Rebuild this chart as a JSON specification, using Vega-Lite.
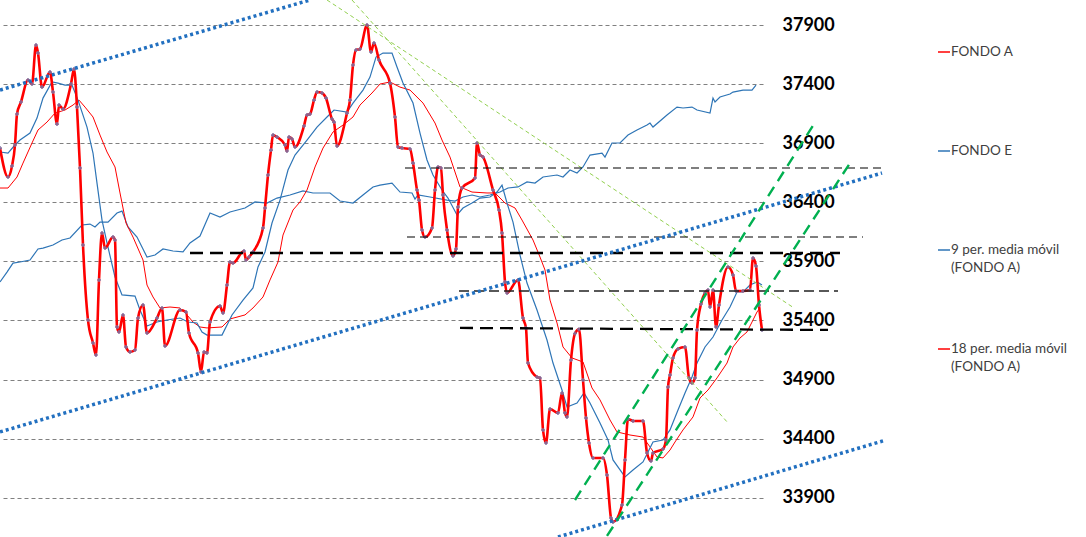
{
  "$schema": "https://vega.github.io/schema/vega-lite/v6.json",
  "width": 763,
  "height": 537,
  "autosize": {"type": "none"},
  "padding": {"left": 0, "top": 0, "right": 323, "bottom": 0},
  "background": "white",
  "config": {"view": {"stroke": null}},
  "datasets": {
    "fa": [
      {"s":"FONDO A","t":0,"v":36859},{"s":"FONDO A","t":8,"v":36614},{"s":"FONDO A","t":12,"v":36707},{"s":"FONDO A","t":15,"v":36885},{"s":"FONDO A","t":17,"v":37147},{"s":"FONDO A","t":21,"v":37249},{"s":"FONDO A","t":28,"v":37435},{"s":"FONDO A","t":32,"v":37401},{"s":"FONDO A","t":36,"v":37731},{"s":"FONDO A","t":38,"v":37663},{"s":"FONDO A","t":42,"v":37375},{"s":"FONDO A","t":50,"v":37502},{"s":"FONDO A","t":53,"v":37333},{"s":"FONDO A","t":57,"v":37062},{"s":"FONDO A","t":59,"v":37223},{"s":"FONDO A","t":63,"v":37189},{"s":"FONDO A","t":71,"v":37401},{"s":"FONDO A","t":74,"v":37528},{"s":"FONDO A","t":77,"v":37206},{"s":"FONDO A","t":80,"v":36690},{"s":"FONDO A","t":83,"v":36039},{"s":"FONDO A","t":88,"v":35404},{"s":"FONDO A","t":93,"v":35210},{"s":"FONDO A","t":96,"v":35108},{"s":"FONDO A","t":99,"v":35743},{"s":"FONDO A","t":102,"v":36140},{"s":"FONDO A","t":105,"v":36013},{"s":"FONDO A","t":113,"v":36106},{"s":"FONDO A","t":115,"v":36081},{"s":"FONDO A","t":117,"v":35345},{"s":"FONDO A","t":119,"v":35303},{"s":"FONDO A","t":123,"v":35447},{"s":"FONDO A","t":126,"v":35176},{"s":"FONDO A","t":130,"v":35134},{"s":"FONDO A","t":135,"v":35150},{"s":"FONDO A","t":138,"v":35421},{"s":"FONDO A","t":143,"v":35531},{"s":"FONDO A","t":147,"v":35294},{"s":"FONDO A","t":157,"v":35421},{"s":"FONDO A","t":162,"v":35506},{"s":"FONDO A","t":165,"v":35184},{"s":"FONDO A","t":180,"v":35489},{"s":"FONDO A","t":186,"v":35472},{"s":"FONDO A","t":189,"v":35294},{"s":"FONDO A","t":198,"v":35125},{"s":"FONDO A","t":201,"v":34964},{"s":"FONDO A","t":204,"v":35134},{"s":"FONDO A","t":207,"v":35125},{"s":"FONDO A","t":210,"v":35387},{"s":"FONDO A","t":220,"v":35523},{"s":"FONDO A","t":223,"v":35463},{"s":"FONDO A","t":227,"v":35700},{"s":"FONDO A","t":230,"v":35895},{"s":"FONDO A","t":233,"v":35886},{"s":"FONDO A","t":244,"v":35988},{"s":"FONDO A","t":246,"v":35912},{"s":"FONDO A","t":249,"v":35937},{"s":"FONDO A","t":253,"v":35980},{"s":"FONDO A","t":263,"v":36183},{"s":"FONDO A","t":265,"v":36352},{"s":"FONDO A","t":268,"v":36631},{"s":"FONDO A","t":271,"v":36842},{"s":"FONDO A","t":273,"v":36969},{"s":"FONDO A","t":277,"v":36952},{"s":"FONDO A","t":285,"v":36885},{"s":"FONDO A","t":287,"v":36834},{"s":"FONDO A","t":289,"v":36952},{"s":"FONDO A","t":292,"v":36936},{"s":"FONDO A","t":295,"v":36868},{"s":"FONDO A","t":304,"v":37046},{"s":"FONDO A","t":307,"v":37139},{"s":"FONDO A","t":310,"v":37147},{"s":"FONDO A","t":314,"v":37265},{"s":"FONDO A","t":317,"v":37333},{"s":"FONDO A","t":322,"v":37325},{"s":"FONDO A","t":326,"v":37282},{"s":"FONDO A","t":332,"v":37105},{"s":"FONDO A","t":334,"v":37079},{"s":"FONDO A","t":337,"v":36876},{"s":"FONDO A","t":347,"v":37155},{"s":"FONDO A","t":350,"v":37265},{"s":"FONDO A","t":353,"v":37562},{"s":"FONDO A","t":356,"v":37688},{"s":"FONDO A","t":360,"v":37697},{"s":"FONDO A","t":367,"v":37900},{"s":"FONDO A","t":371,"v":37672},{"s":"FONDO A","t":374,"v":37748},{"s":"FONDO A","t":379,"v":37604},{"s":"FONDO A","t":390,"v":37409},{"s":"FONDO A","t":395,"v":37122},{"s":"FONDO A","t":398,"v":36868},{"s":"FONDO A","t":402,"v":36859},{"s":"FONDO A","t":410,"v":36851},{"s":"FONDO A","t":413,"v":36732},{"s":"FONDO A","t":417,"v":36504},{"s":"FONDO A","t":419,"v":36419},{"s":"FONDO A","t":422,"v":36166},{"s":"FONDO A","t":425,"v":36106},{"s":"FONDO A","t":432,"v":36183},{"s":"FONDO A","t":435,"v":36504},{"s":"FONDO A","t":438,"v":36699},{"s":"FONDO A","t":441,"v":36690},{"s":"FONDO A","t":443,"v":36462},{"s":"FONDO A","t":447,"v":36166},{"s":"FONDO A","t":453,"v":35946},{"s":"FONDO A","t":456,"v":36005},{"s":"FONDO A","t":458,"v":36360},{"s":"FONDO A","t":462,"v":36521},{"s":"FONDO A","t":475,"v":36606},{"s":"FONDO A","t":477,"v":36902},{"s":"FONDO A","t":480,"v":36800},{"s":"FONDO A","t":483,"v":36783},{"s":"FONDO A","t":493,"v":36504},{"s":"FONDO A","t":499,"v":36335},{"s":"FONDO A","t":502,"v":36140},{"s":"FONDO A","t":505,"v":35726},{"s":"FONDO A","t":507,"v":35633},{"s":"FONDO A","t":518,"v":35743},{"s":"FONDO A","t":523,"v":35421},{"s":"FONDO A","t":526,"v":35337},{"s":"FONDO A","t":528,"v":35040},{"s":"FONDO A","t":537,"v":34922},{"s":"FONDO A","t":540,"v":34914},{"s":"FONDO A","t":543,"v":34474},{"s":"FONDO A","t":546,"v":34364},{"s":"FONDO A","t":550,"v":34651},{"s":"FONDO A","t":558,"v":34618},{"s":"FONDO A","t":562,"v":34787},{"s":"FONDO A","t":565,"v":34618},{"s":"FONDO A","t":567,"v":34584},{"s":"FONDO A","t":571,"v":35066},{"s":"FONDO A","t":575,"v":35290},{"s":"FONDO A","t":579,"v":35325},{"s":"FONDO A","t":583,"v":34897},{"s":"FONDO A","t":586,"v":34575},{"s":"FONDO A","t":589,"v":34364},{"s":"FONDO A","t":593,"v":34237},{"s":"FONDO A","t":603,"v":34237},{"s":"FONDO A","t":607,"v":34093},{"s":"FONDO A","t":611,"v":33729},{"s":"FONDO A","t":613,"v":33695},{"s":"FONDO A","t":622,"v":33839},{"s":"FONDO A","t":625,"v":34220},{"s":"FONDO A","t":628,"v":34567},{"s":"FONDO A","t":633,"v":34550},{"s":"FONDO A","t":643,"v":34550},{"s":"FONDO A","t":647,"v":34279},{"s":"FONDO A","t":651,"v":34211},{"s":"FONDO A","t":653,"v":34279},{"s":"FONDO A","t":663,"v":34313},{"s":"FONDO A","t":666,"v":34389},{"s":"FONDO A","t":668,"v":34837},{"s":"FONDO A","t":670,"v":34939},{"s":"FONDO A","t":673,"v":35083},{"s":"FONDO A","t":678,"v":35159},{"s":"FONDO A","t":685,"v":35176},{"s":"FONDO A","t":689,"v":34914},{"s":"FONDO A","t":692,"v":34871},{"s":"FONDO A","t":695,"v":34914},{"s":"FONDO A","t":697,"v":35320},{"s":"FONDO A","t":701,"v":35540},{"s":"FONDO A","t":705,"v":35633},{"s":"FONDO A","t":708,"v":35658},{"s":"FONDO A","t":710,"v":35514},{"s":"FONDO A","t":713,"v":35658},{"s":"FONDO A","t":716,"v":35345},{"s":"FONDO A","t":719,"v":35531},{"s":"FONDO A","t":728,"v":35853},{"s":"FONDO A","t":733,"v":35785},{"s":"FONDO A","t":736,"v":35650},{"s":"FONDO A","t":743,"v":35650},{"s":"FONDO A","t":750,"v":35658},{"s":"FONDO A","t":753,"v":35929},{"s":"FONDO A","t":756,"v":35861},{"s":"FONDO A","t":759,"v":35531},{"s":"FONDO A","t":762,"v":35320}
    ],
    "fe": [
      {"s":"FONDO E","t":0,"v":35726},{"s":"FONDO E","t":7,"v":35810},{"s":"FONDO E","t":13,"v":35886},{"s":"FONDO E","t":20,"v":35895},{"s":"FONDO E","t":30,"v":35912},{"s":"FONDO E","t":38,"v":36005},{"s":"FONDO E","t":43,"v":36013},{"s":"FONDO E","t":53,"v":36039},{"s":"FONDO E","t":62,"v":36081},{"s":"FONDO E","t":70,"v":36098},{"s":"FONDO E","t":82,"v":36208},{"s":"FONDO E","t":90,"v":36216},{"s":"FONDO E","t":95,"v":36191},{"s":"FONDO E","t":100,"v":36233},{"s":"FONDO E","t":108,"v":36233},{"s":"FONDO E","t":117,"v":36310},{"s":"FONDO E","t":122,"v":36326},{"s":"FONDO E","t":128,"v":36191},{"s":"FONDO E","t":137,"v":36106},{"s":"FONDO E","t":147,"v":35937},{"s":"FONDO E","t":155,"v":35954},{"s":"FONDO E","t":163,"v":36005},{"s":"FONDO E","t":173,"v":35988},{"s":"FONDO E","t":183,"v":35980},{"s":"FONDO E","t":190,"v":36056},{"s":"FONDO E","t":200,"v":36115},{"s":"FONDO E","t":210,"v":36310},{"s":"FONDO E","t":220,"v":36276},{"s":"FONDO E","t":230,"v":36318},{"s":"FONDO E","t":245,"v":36352},{"s":"FONDO E","t":255,"v":36403},{"s":"FONDO E","t":267,"v":36394},{"s":"FONDO E","t":277,"v":36436},{"s":"FONDO E","t":290,"v":36462},{"s":"FONDO E","t":303,"v":36496},{"s":"FONDO E","t":313,"v":36479},{"s":"FONDO E","t":330,"v":36479},{"s":"FONDO E","t":340,"v":36411},{"s":"FONDO E","t":353,"v":36394},{"s":"FONDO E","t":363,"v":36462},{"s":"FONDO E","t":373,"v":36530},{"s":"FONDO E","t":380,"v":36546},{"s":"FONDO E","t":392,"v":36563},{"s":"FONDO E","t":400,"v":36487},{"s":"FONDO E","t":412,"v":36479},{"s":"FONDO E","t":415,"v":36428},{"s":"FONDO E","t":418,"v":36462},{"s":"FONDO E","t":430,"v":36445},{"s":"FONDO E","t":447,"v":36419},{"s":"FONDO E","t":455,"v":36411},{"s":"FONDO E","t":463,"v":36445},{"s":"FONDO E","t":472,"v":36462},{"s":"FONDO E","t":480,"v":36445},{"s":"FONDO E","t":490,"v":36462},{"s":"FONDO E","t":500,"v":36487},{"s":"FONDO E","t":508,"v":36521},{"s":"FONDO E","t":518,"v":36530},{"s":"FONDO E","t":527,"v":36572},{"s":"FONDO E","t":535,"v":36563},{"s":"FONDO E","t":543,"v":36614},{"s":"FONDO E","t":557,"v":36631},{"s":"FONDO E","t":563,"v":36614},{"s":"FONDO E","t":570,"v":36673},{"s":"FONDO E","t":577,"v":36648},{"s":"FONDO E","t":583,"v":36699},{"s":"FONDO E","t":590,"v":36800},{"s":"FONDO E","t":602,"v":36817},{"s":"FONDO E","t":605,"v":36783},{"s":"FONDO E","t":612,"v":36902},{"s":"FONDO E","t":620,"v":36902},{"s":"FONDO E","t":628,"v":36969},{"s":"FONDO E","t":637,"v":37012},{"s":"FONDO E","t":647,"v":37054},{"s":"FONDO E","t":650,"v":37071},{"s":"FONDO E","t":653,"v":37037},{"s":"FONDO E","t":667,"v":37139},{"s":"FONDO E","t":677,"v":37206},{"s":"FONDO E","t":683,"v":37198},{"s":"FONDO E","t":692,"v":37206},{"s":"FONDO E","t":697,"v":37181},{"s":"FONDO E","t":710,"v":37155},{"s":"FONDO E","t":713,"v":37282},{"s":"FONDO E","t":715,"v":37249},{"s":"FONDO E","t":720,"v":37291},{"s":"FONDO E","t":730,"v":37316},{"s":"FONDO E","t":733,"v":37333},{"s":"FONDO E","t":743,"v":37350},{"s":"FONDO E","t":752,"v":37350},{"s":"FONDO E","t":756,"v":37392}
    ],
    "m9": [
      {"s":"9 per. media móvil (FONDO A)","t":0,"v":36826},{"s":"9 per. media móvil (FONDO A)","t":8,"v":36817},{"s":"9 per. media móvil (FONDO A)","t":15,"v":36885},{"s":"9 per. media móvil (FONDO A)","t":20,"v":36927},{"s":"9 per. media móvil (FONDO A)","t":30,"v":36986},{"s":"9 per. media móvil (FONDO A)","t":37,"v":37113},{"s":"9 per. media móvil (FONDO A)","t":43,"v":37282},{"s":"9 per. media móvil (FONDO A)","t":52,"v":37418},{"s":"9 per. media móvil (FONDO A)","t":58,"v":37409},{"s":"9 per. media móvil (FONDO A)","t":65,"v":37392},{"s":"9 per. media móvil (FONDO A)","t":72,"v":37392},{"s":"9 per. media móvil (FONDO A)","t":78,"v":37265},{"s":"9 per. media móvil (FONDO A)","t":87,"v":37037},{"s":"9 per. media móvil (FONDO A)","t":93,"v":36817},{"s":"9 per. media móvil (FONDO A)","t":97,"v":36563},{"s":"9 per. media móvil (FONDO A)","t":102,"v":36250},{"s":"9 per. media móvil (FONDO A)","t":107,"v":36056},{"s":"9 per. media móvil (FONDO A)","t":115,"v":35768},{"s":"9 per. media móvil (FONDO A)","t":122,"v":35616},{"s":"9 per. media móvil (FONDO A)","t":135,"v":35607},{"s":"9 per. media móvil (FONDO A)","t":140,"v":35489},{"s":"9 per. media móvil (FONDO A)","t":147,"v":35353},{"s":"9 per. media móvil (FONDO A)","t":157,"v":35387},{"s":"9 per. media móvil (FONDO A)","t":167,"v":35404},{"s":"9 per. media móvil (FONDO A)","t":180,"v":35421},{"s":"9 per. media móvil (FONDO A)","t":188,"v":35387},{"s":"9 per. media móvil (FONDO A)","t":197,"v":35379},{"s":"9 per. media móvil (FONDO A)","t":202,"v":35303},{"s":"9 per. media móvil (FONDO A)","t":207,"v":35277},{"s":"9 per. media móvil (FONDO A)","t":222,"v":35277},{"s":"9 per. media móvil (FONDO A)","t":232,"v":35447},{"s":"9 per. media móvil (FONDO A)","t":243,"v":35573},{"s":"9 per. media móvil (FONDO A)","t":253,"v":35675},{"s":"9 per. media móvil (FONDO A)","t":258,"v":35853},{"s":"9 per. media móvil (FONDO A)","t":265,"v":35980},{"s":"9 per. media móvil (FONDO A)","t":272,"v":36225},{"s":"9 per. media móvil (FONDO A)","t":280,"v":36419},{"s":"9 per. media móvil (FONDO A)","t":288,"v":36673},{"s":"9 per. media móvil (FONDO A)","t":295,"v":36800},{"s":"9 per. media móvil (FONDO A)","t":307,"v":36927},{"s":"9 per. media móvil (FONDO A)","t":317,"v":37037},{"s":"9 per. media móvil (FONDO A)","t":327,"v":37122},{"s":"9 per. media móvil (FONDO A)","t":334,"v":37181},{"s":"9 per. media móvil (FONDO A)","t":347,"v":37164},{"s":"9 per. media móvil (FONDO A)","t":353,"v":37240},{"s":"9 per. media móvil (FONDO A)","t":363,"v":37350},{"s":"9 per. media móvil (FONDO A)","t":370,"v":37460},{"s":"9 per. media móvil (FONDO A)","t":376,"v":37629},{"s":"9 per. media móvil (FONDO A)","t":383,"v":37663},{"s":"9 per. media móvil (FONDO A)","t":392,"v":37663},{"s":"9 per. media móvil (FONDO A)","t":397,"v":37545},{"s":"9 per. media móvil (FONDO A)","t":403,"v":37409},{"s":"9 per. media móvil (FONDO A)","t":413,"v":37240},{"s":"9 per. media móvil (FONDO A)","t":420,"v":36986},{"s":"9 per. media móvil (FONDO A)","t":427,"v":36758},{"s":"9 per. media móvil (FONDO A)","t":433,"v":36631},{"s":"9 per. media móvil (FONDO A)","t":442,"v":36504},{"s":"9 per. media móvil (FONDO A)","t":448,"v":36436},{"s":"9 per. media móvil (FONDO A)","t":457,"v":36293},{"s":"9 per. media móvil (FONDO A)","t":463,"v":36352},{"s":"9 per. media móvil (FONDO A)","t":472,"v":36394},{"s":"9 per. media móvil (FONDO A)","t":480,"v":36436},{"s":"9 per. media móvil (FONDO A)","t":490,"v":36445},{"s":"9 per. media móvil (FONDO A)","t":497,"v":36487},{"s":"9 per. media móvil (FONDO A)","t":502,"v":36546},{"s":"9 per. media móvil (FONDO A)","t":507,"v":36394},{"s":"9 per. media móvil (FONDO A)","t":513,"v":36233},{"s":"9 per. media móvil (FONDO A)","t":520,"v":35954},{"s":"9 per. media móvil (FONDO A)","t":527,"v":35717},{"s":"9 per. media móvil (FONDO A)","t":537,"v":35489},{"s":"9 per. media móvil (FONDO A)","t":547,"v":35235},{"s":"9 per. media móvil (FONDO A)","t":553,"v":35040},{"s":"9 per. media móvil (FONDO A)","t":562,"v":34812},{"s":"9 per. media móvil (FONDO A)","t":567,"v":34668},{"s":"9 per. media móvil (FONDO A)","t":577,"v":34702},{"s":"9 per. media móvil (FONDO A)","t":584,"v":34787},{"s":"9 per. media móvil (FONDO A)","t":590,"v":34702},{"s":"9 per. media móvil (FONDO A)","t":600,"v":34533},{"s":"9 per. media móvil (FONDO A)","t":608,"v":34389},{"s":"9 per. media móvil (FONDO A)","t":613,"v":34220},{"s":"9 per. media móvil (FONDO A)","t":625,"v":34076},{"s":"9 per. media móvil (FONDO A)","t":633,"v":34135},{"s":"9 per. media móvil (FONDO A)","t":643,"v":34203},{"s":"9 per. media móvil (FONDO A)","t":653,"v":34372},{"s":"9 per. media móvil (FONDO A)","t":663,"v":34389},{"s":"9 per. media móvil (FONDO A)","t":670,"v":34474},{"s":"9 per. media móvil (FONDO A)","t":678,"v":34643},{"s":"9 per. media móvil (FONDO A)","t":685,"v":34787},{"s":"9 per. media móvil (FONDO A)","t":692,"v":34922},{"s":"9 per. media móvil (FONDO A)","t":697,"v":35040},{"s":"9 per. media móvil (FONDO A)","t":705,"v":35176},{"s":"9 per. media móvil (FONDO A)","t":713,"v":35260},{"s":"9 per. media móvil (FONDO A)","t":722,"v":35404},{"s":"9 per. media móvil (FONDO A)","t":730,"v":35514},{"s":"9 per. media móvil (FONDO A)","t":737,"v":35641},{"s":"9 per. media móvil (FONDO A)","t":743,"v":35641},{"s":"9 per. media móvil (FONDO A)","t":750,"v":35700},{"s":"9 per. media móvil (FONDO A)","t":757,"v":35726},{"s":"9 per. media móvil (FONDO A)","t":762,"v":35700}
    ],
    "m18": [
      {"s":"18 per. media móvil (FONDO A)","t":0,"v":36521},{"s":"18 per. media móvil (FONDO A)","t":8,"v":36521},{"s":"18 per. media móvil (FONDO A)","t":17,"v":36614},{"s":"18 per. media móvil (FONDO A)","t":23,"v":36732},{"s":"18 per. media móvil (FONDO A)","t":32,"v":36902},{"s":"18 per. media móvil (FONDO A)","t":38,"v":37012},{"s":"18 per. media móvil (FONDO A)","t":47,"v":37079},{"s":"18 per. media móvil (FONDO A)","t":55,"v":37155},{"s":"18 per. media móvil (FONDO A)","t":65,"v":37181},{"s":"18 per. media móvil (FONDO A)","t":73,"v":37223},{"s":"18 per. media móvil (FONDO A)","t":79,"v":37265},{"s":"18 per. media móvil (FONDO A)","t":85,"v":37206},{"s":"18 per. media móvil (FONDO A)","t":93,"v":37122},{"s":"18 per. media móvil (FONDO A)","t":100,"v":36969},{"s":"18 per. media móvil (FONDO A)","t":107,"v":36826},{"s":"18 per. media móvil (FONDO A)","t":115,"v":36699},{"s":"18 per. media móvil (FONDO A)","t":120,"v":36479},{"s":"18 per. media móvil (FONDO A)","t":126,"v":36225},{"s":"18 per. media móvil (FONDO A)","t":133,"v":36106},{"s":"18 per. media móvil (FONDO A)","t":143,"v":35912},{"s":"18 per. media móvil (FONDO A)","t":147,"v":35700},{"s":"18 per. media móvil (FONDO A)","t":153,"v":35599},{"s":"18 per. media móvil (FONDO A)","t":160,"v":35506},{"s":"18 per. media móvil (FONDO A)","t":170,"v":35514},{"s":"18 per. media móvil (FONDO A)","t":180,"v":35506},{"s":"18 per. media móvil (FONDO A)","t":187,"v":35447},{"s":"18 per. media móvil (FONDO A)","t":193,"v":35387},{"s":"18 per. media móvil (FONDO A)","t":200,"v":35345},{"s":"18 per. media móvil (FONDO A)","t":207,"v":35337},{"s":"18 per. media móvil (FONDO A)","t":222,"v":35345},{"s":"18 per. media móvil (FONDO A)","t":230,"v":35413},{"s":"18 per. media móvil (FONDO A)","t":245,"v":35447},{"s":"18 per. media móvil (FONDO A)","t":253,"v":35506},{"s":"18 per. media móvil (FONDO A)","t":263,"v":35599},{"s":"18 per. media móvil (FONDO A)","t":270,"v":35743},{"s":"18 per. media móvil (FONDO A)","t":278,"v":35895},{"s":"18 per. media móvil (FONDO A)","t":283,"v":36123},{"s":"18 per. media móvil (FONDO A)","t":293,"v":36335},{"s":"18 per. media móvil (FONDO A)","t":300,"v":36403},{"s":"18 per. media móvil (FONDO A)","t":307,"v":36504},{"s":"18 per. media móvil (FONDO A)","t":315,"v":36699},{"s":"18 per. media móvil (FONDO A)","t":323,"v":36859},{"s":"18 per. media móvil (FONDO A)","t":333,"v":36995},{"s":"18 per. media móvil (FONDO A)","t":343,"v":37054},{"s":"18 per. media móvil (FONDO A)","t":353,"v":37122},{"s":"18 per. media móvil (FONDO A)","t":360,"v":37223},{"s":"18 per. media móvil (FONDO A)","t":372,"v":37325},{"s":"18 per. media móvil (FONDO A)","t":380,"v":37401},{"s":"18 per. media móvil (FONDO A)","t":390,"v":37418},{"s":"18 per. media móvil (FONDO A)","t":400,"v":37375},{"s":"18 per. media móvil (FONDO A)","t":410,"v":37350},{"s":"18 per. media móvil (FONDO A)","t":423,"v":37240},{"s":"18 per. media móvil (FONDO A)","t":435,"v":37071},{"s":"18 per. media móvil (FONDO A)","t":442,"v":36927},{"s":"18 per. media móvil (FONDO A)","t":450,"v":36783},{"s":"18 per. media móvil (FONDO A)","t":460,"v":36530},{"s":"18 per. media móvil (FONDO A)","t":472,"v":36487},{"s":"18 per. media móvil (FONDO A)","t":487,"v":36479},{"s":"18 per. media móvil (FONDO A)","t":495,"v":36479},{"s":"18 per. media móvil (FONDO A)","t":505,"v":36394},{"s":"18 per. media móvil (FONDO A)","t":515,"v":36352},{"s":"18 per. media móvil (FONDO A)","t":522,"v":36250},{"s":"18 per. media móvil (FONDO A)","t":533,"v":36081},{"s":"18 per. media móvil (FONDO A)","t":540,"v":35937},{"s":"18 per. media móvil (FONDO A)","t":545,"v":35827},{"s":"18 per. media móvil (FONDO A)","t":550,"v":35573},{"s":"18 per. media móvil (FONDO A)","t":557,"v":35379},{"s":"18 per. media móvil (FONDO A)","t":563,"v":35176},{"s":"18 per. media móvil (FONDO A)","t":572,"v":35083},{"s":"18 per. media móvil (FONDO A)","t":583,"v":35049},{"s":"18 per. media móvil (FONDO A)","t":592,"v":34829},{"s":"18 per. media móvil (FONDO A)","t":600,"v":34728},{"s":"18 per. media móvil (FONDO A)","t":610,"v":34558},{"s":"18 per. media móvil (FONDO A)","t":617,"v":34457},{"s":"18 per. media móvil (FONDO A)","t":630,"v":34431},{"s":"18 per. media móvil (FONDO A)","t":643,"v":34414},{"s":"18 per. media móvil (FONDO A)","t":650,"v":34330},{"s":"18 per. media móvil (FONDO A)","t":657,"v":34245},{"s":"18 per. media móvil (FONDO A)","t":663,"v":34237},{"s":"18 per. media móvil (FONDO A)","t":670,"v":34304},{"s":"18 per. media móvil (FONDO A)","t":675,"v":34372},{"s":"18 per. media móvil (FONDO A)","t":683,"v":34474},{"s":"18 per. media móvil (FONDO A)","t":693,"v":34584},{"s":"18 per. media móvil (FONDO A)","t":700,"v":34744},{"s":"18 per. media móvil (FONDO A)","t":708,"v":34812},{"s":"18 per. media móvil (FONDO A)","t":717,"v":34914},{"s":"18 per. media móvil (FONDO A)","t":727,"v":35040},{"s":"18 per. media móvil (FONDO A)","t":733,"v":35176},{"s":"18 per. media móvil (FONDO A)","t":740,"v":35252},{"s":"18 per. media móvil (FONDO A)","t":747,"v":35303},{"s":"18 per. media móvil (FONDO A)","t":752,"v":35387},{"s":"18 per. media móvil (FONDO A)","t":757,"v":35472},{"s":"18 per. media móvil (FONDO A)","t":760,"v":35506}
    ],
    "guides": [
      {"k":"blue","id":"b1","t":0,"v":37350},{"k":"blue","id":"b1","t":310,"v":38112},
      {"k":"blue","id":"b2","t":0,"v":34457},{"k":"blue","id":"b2","t":882,"v":36648},
      {"k":"blue","id":"b3","t":558,"v":33568},{"k":"blue","id":"b3","t":883,"v":34381},
      {"k":"green","id":"g1","t":575,"v":33881},{"k":"green","id":"g1","t":814,"v":37062},
      {"k":"green","id":"g2","t":607,"v":33577},{"k":"green","id":"g2","t":852,"v":36758},
      {"k":"lgreen","id":"l1","t":327,"v":38112},{"k":"lgreen","id":"l1","t":794,"v":35506},
      {"k":"lgreen","id":"l2","t":352,"v":38112},{"k":"lgreen","id":"l2","t":728,"v":34533},
      {"k":"kthin","id":"k1","t":405,"v":36690},{"k":"kthin","id":"k1","t":883,"v":36690},
      {"k":"kthin","id":"k2","t":407,"v":36106},{"k":"kthin","id":"k2","t":863,"v":36106},
      {"k":"kmid","id":"k4","t":459,"v":35650},{"k":"kmid","id":"k4","t":838,"v":35650},
      {"k":"kthick","id":"k3","t":190,"v":35971},{"k":"kthick","id":"k3","t":840,"v":35971},
      {"k":"kthick","id":"k5","t":460,"v":35337},{"k":"kthick","id":"k5","t":828,"v":35320}
    ]
  },
  "encoding": {
    "x": {"field": "t", "type": "quantitative", "scale": {"domain": [0, 763], "nice": false, "zero": false}, "axis": null},
    "y": {"field": "v", "type": "quantitative", "scale": {"domain": [33568, 38112], "nice": false, "zero": false},
      "axis": {"orient": "right", "values": [33900, 34400, 34900, 35400, 35900, 36400, 36900, 37400, 37900], "format": "d", "title": null,
        "grid": true, "gridColor": "#808080", "gridDash": [4, 3], "gridWidth": 1, "domain": false, "ticks": false,
        "labelFont": "Lato", "labelFontSize": 18, "labelFontWeight": "bold", "labelColor": "#000000", "labelPadding": 19}}
  },
  "layer": [
    {"data": {"name": "fe"}, "mark": {"type": "line", "strokeWidth": 1.2},
      "encoding": {"color": {"field": "s", "type": "nominal",
        "scale": {"domain": ["FONDO A", "FONDO E", "9 per. media móvil (FONDO A)", "18 per. media móvil (FONDO A)"], "range": ["#ff0000", "#2e75b6", "#2e75b6", "#ff0000"]},
        "legend": {"orient": "none", "legendX": 937, "legendY": 45, "title": null, "padding": 0,
          "symbolType": "stroke", "symbolSize": 144, "symbolStrokeWidth": 1.5,
          "labelFont": "Lato", "labelFontSize": 13.5, "labelColor": "#404040", "labelOffset": 0, "labelLimit": 300,
          "rowPadding": 49,
          "labelExpr": "datum.label == '9 per. media móvil (FONDO A)' ? ['9 per. media móvil', '(FONDO A)', ''] : datum.label == '18 per. media móvil (FONDO A)' ? ['18 per. media móvil', '(FONDO A)', ''] : [datum.label, '', '']",
          "encode": {"labels": {"update": {"lineHeight": {"value": 18}}}}}}}},
    {"data": {"name": "m18"}, "mark": {"type": "line", "strokeWidth": 1}, "encoding": {"color": {"field": "s", "type": "nominal"}}},
    {"data": {"name": "m9"}, "mark": {"type": "line", "strokeWidth": 1.2}, "encoding": {"color": {"field": "s", "type": "nominal"}}},
    {"data": {"name": "fa"}, "mark": {"type": "line", "strokeWidth": 2.6, "interpolate": "monotone"}, "encoding": {"color": {"field": "s", "type": "nominal"}}},
    {"data": {"name": "fa"}, "mark": {"type": "point", "shape": "cross", "filled": true, "size": 16, "color": "#7f6fa0", "opacity": 0.9}},
    {"data": {"name": "guides"}, "transform": [{"filter": {"field": "k", "equal": "lgreen"}}],
      "mark": {"type": "line", "color": "#92d050", "strokeWidth": 1, "strokeDash": [4, 3]}, "encoding": {"detail": {"field": "id"}}},
    {"data": {"name": "guides"}, "transform": [{"filter": {"field": "k", "equal": "kthin"}}],
      "mark": {"type": "line", "color": "#000000", "strokeWidth": 1.1, "strokeDash": [8, 5]}, "encoding": {"detail": {"field": "id"}}},
    {"data": {"name": "guides"}, "transform": [{"filter": {"field": "k", "equal": "kmid"}}],
      "mark": {"type": "line", "color": "#222222", "strokeWidth": 1.4, "strokeDash": [10, 5]}, "encoding": {"detail": {"field": "id"}}},
    {"data": {"name": "guides"}, "transform": [{"filter": {"field": "k", "equal": "kthick"}}],
      "mark": {"type": "line", "color": "#000000", "strokeWidth": 2.3, "strokeDash": [13, 7]}, "encoding": {"detail": {"field": "id"}}},
    {"data": {"name": "guides"}, "transform": [{"filter": {"field": "k", "equal": "blue"}}],
      "mark": {"type": "line", "color": "#2270c0", "strokeWidth": 3.5, "strokeDash": [3, 3]}, "encoding": {"detail": {"field": "id"}}},
    {"data": {"name": "guides"}, "transform": [{"filter": {"field": "k", "equal": "green"}}],
      "mark": {"type": "line", "color": "#00b050", "strokeWidth": 2.4, "strokeDash": [11, 7]}, "encoding": {"detail": {"field": "id"}}}
  ]
}
